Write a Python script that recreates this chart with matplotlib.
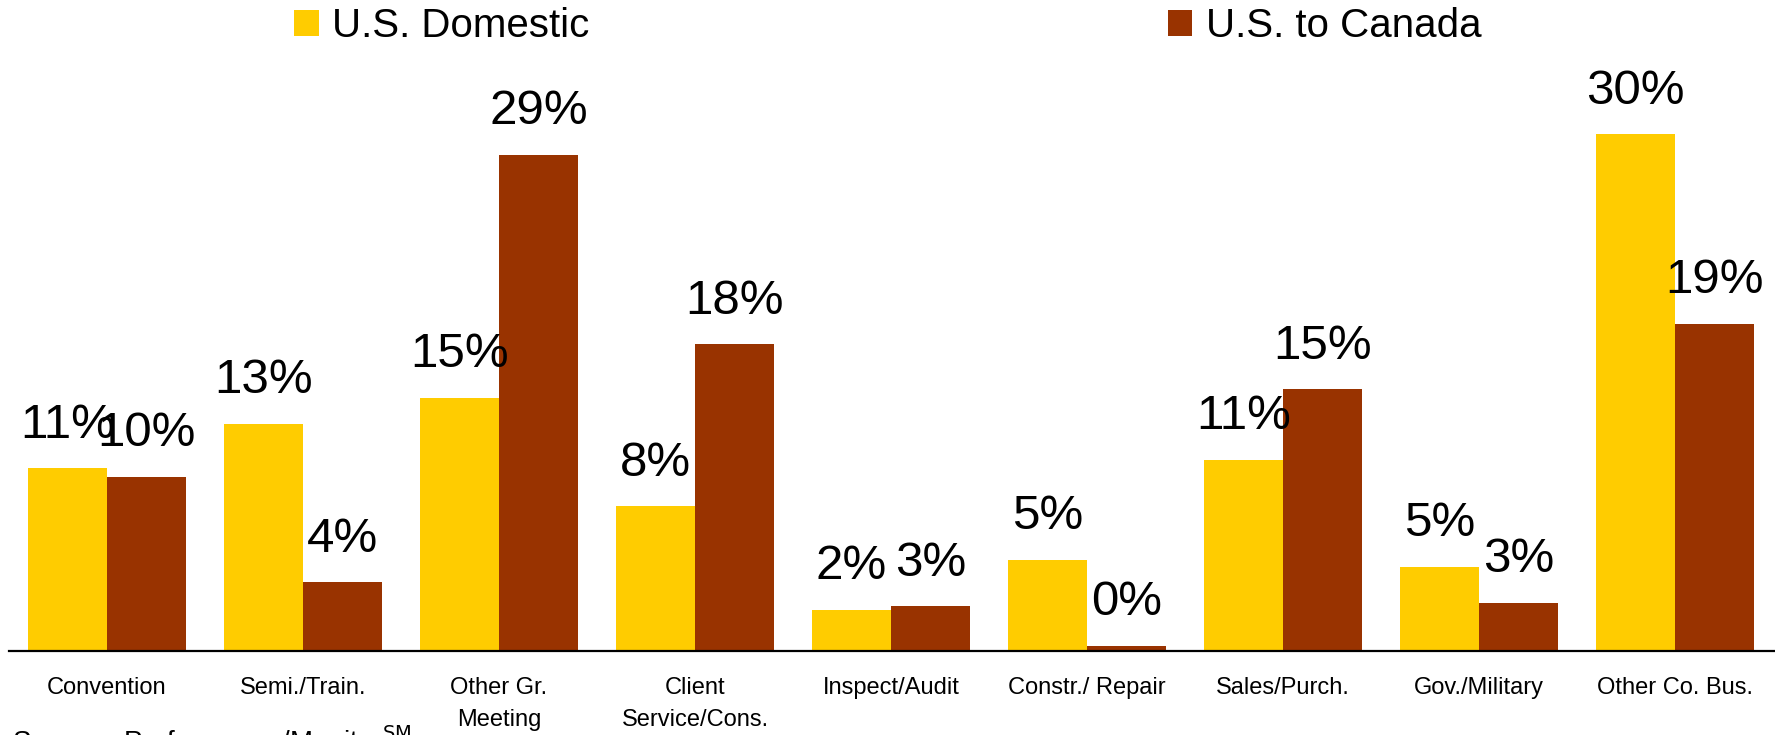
import numpy as np
import matplotlib
matplotlib.use("Agg")
import matplotlib.pyplot as plt
from matplotlib.patches import Patch

plt.rcParams['font.family'] = ['Liberation Sans', 'DejaVu Sans']

# Trip purpose shares (%)
categories = ['Convention', 'Semi./Train.', 'Other Gr.\nMeeting', 'Client\nService/Cons.',
              'Inspect/Audit', 'Constr./ Repair', 'Sales/Purch.', 'Gov./Military',
              'Other Co. Bus.']
us_domestic = [10.6, 13.2, 14.7, 8.4, 2.4, 5.3, 11.1, 4.9, 30.0]
us_to_canada = [10.1, 4.0, 28.8, 17.8, 2.6, 0.3, 15.2, 2.8, 19.0]

series_names = ['U.S. Domestic', 'U.S. to Canada']
colors = ['#FFCC00', '#993300']

W, H = 1775, 735
fig = plt.figure(figsize=(W / 100, H / 100), dpi=100)
ax = fig.add_axes([9 / W, 84 / H, (W - 9) / W, 651 / H])

x = np.arange(len(categories))
bw = 0.405
for vals, off, col in [(us_domestic, -bw / 2, colors[0]), (us_to_canada, bw / 2, colors[1])]:
    bars = ax.bar(x + off, vals, width=bw, color=col, linewidth=0)
    for b, v in zip(bars, vals):
        ax.annotate(f"{v:.0f}%", (b.get_x() + b.get_width() / 2, v),
                    xytext=(0, 22), textcoords='offset points',
                    ha='center', va='baseline', fontsize=35.5, color='black')

ax.set_xlim(-0.5, 8.51)
ax.set_ylim(0, 37.78)
ax.set_xticks(x)
ax.set_xticklabels(categories, fontsize=17)
for lbl in ax.get_xticklabels():
    lbl.set_linespacing(1.6)
ax.tick_params(axis='x', length=0, pad=18.5)
ax.set_yticks([])
for side in ['top', 'right', 'left']:
    ax.spines[side].set_visible(False)
ax.spines['bottom'].set_linewidth(1.6)
ax.spines['bottom'].set_color('black')
ax.patch.set_alpha(0)

handles = [Patch(facecolor=c, edgecolor='none') for c in colors]
fig.legend(handles, series_names, loc='center left',
           bbox_to_anchor=(294 / W, 1 - 26 / H), ncol=2, frameon=False,
           fontsize=29, handlelength=0.62, handleheight=0.62,
           handletextpad=0.33, columnspacing=14.35, borderpad=0, borderaxespad=0)

fig.text(12 / W, 1 - 727 / H, 'Source:  Performance/Monitor$^{\\mathrm{SM}}$',
         fontsize=20, va='top', ha='left')

fig.savefig('out.png', dpi=100)
